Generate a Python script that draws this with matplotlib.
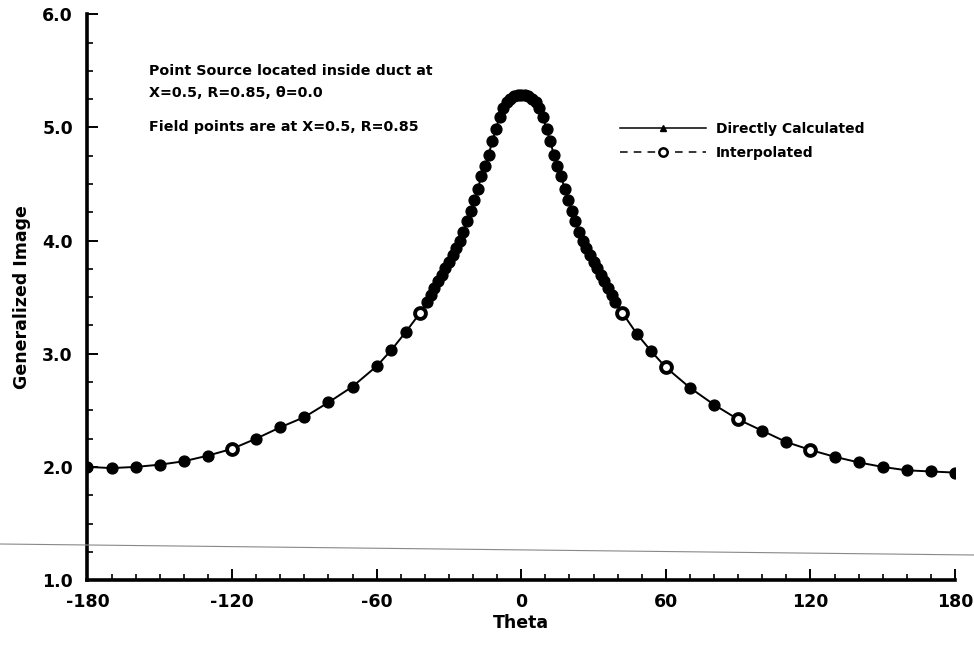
import matplotlib
matplotlib.use("Agg")
import matplotlib.pyplot as plt
from matplotlib.lines import Line2D
from matplotlib.ticker import MultipleLocator

plt.rcParams['font.family'] = ['DejaVu Sans']
plt.rcParams['font.weight'] = 'bold'

# ---- data ----
theta = [-180, -170, -160, -150, -140, -130, -120, -110, -100, -90, -80, -70, -60,
         -54, -48, -42,
         -39, -37.5, -36, -34.5, -33, -31.5, -30, -28.5, -27, -25.5, -24, -22.5,
         -21, -19.5, -18, -16.5, -15, -13.5, -12, -10.5, -9, -7.5, -6, -4.5,
         -3, -1.5, 0, 1.5, 3, 4.5, 6, 7.5, 9, 10.5, 12, 13.5, 15, 16.5, 18,
         19.5, 21, 22.5, 24, 25.5, 27, 28.5, 30, 31.5, 33, 34.5, 36, 37.5, 39,
         42, 48, 54, 60, 70, 80, 90, 100, 110, 120, 130, 140, 150, 160, 170, 180]
image = [2.00, 1.99, 2.00, 2.02, 2.05, 2.10, 2.16, 2.25, 2.35, 2.44, 2.57, 2.71, 2.89,
         3.03, 3.19, 3.36,
         3.46, 3.52, 3.58, 3.64, 3.70, 3.76, 3.81, 3.87, 3.93, 4.00, 4.08, 4.17,
         4.26, 4.36, 4.46, 4.57, 4.66, 4.76, 4.88, 4.99, 5.09, 5.17, 5.22, 5.255,
         5.275, 5.285, 5.29, 5.285, 5.275, 5.255, 5.22, 5.17, 5.09, 4.99, 4.88, 4.76, 4.66, 4.57, 4.46,
         4.36, 4.26, 4.17, 4.08, 4.00, 3.93, 3.87, 3.81, 3.76, 3.70, 3.64, 3.58, 3.52, 3.46,
         3.36, 3.175, 3.02, 2.88, 2.70, 2.55, 2.42, 2.32, 2.22, 2.15, 2.09, 2.04, 2.00, 1.97, 1.96, 1.95]

interp_theta = [-120, -42, 42, 60, 90, 120]
interp_image = [2.16, 3.36, 3.36, 2.88, 2.42, 2.15]

xticks = [-180, -120, -60, 0, 60, 120, 180]
xticklabels = ['-180', '-120', '-60', '0', '60', '120', '180']
yticks = [1.0, 2.0, 3.0, 4.0, 5.0, 6.0]
yticklabels = ['1.0', '2.0', '3.0', '4.0', '5.0', '6.0']

legend_labels = ['Directly Calculated', 'Interpolated']
note_lines = ['Point Source located inside duct at',
              'X=0.5, R=0.85, \u03b8=0.0',
              'Field points are at X=0.5, R=0.85']
note_y = [5.50, 5.30, 5.00]

# ---- figure ----
fig = plt.figure(figsize=(9.74, 6.46), dpi=100)
ax = fig.add_axes([0.0898, 0.102, 0.8907, 0.876])

ax.plot(theta, image, '-', color='black', lw=1.4, marker='o', ms=7.8,
        mfc='black', mec='black', zorder=3)
ax.plot(interp_theta, interp_image, 'o', ms=7.8, mfc='white', mec='black',
        mew=2.8, zorder=4)

ax.set_xlim(-180, 180)
ax.set_ylim(1.0, 6.0)
ax.set_xticks(xticks)
ax.set_xticklabels(xticklabels)
ax.set_yticks(yticks)
ax.set_yticklabels(yticklabels)
ax.xaxis.set_minor_locator(MultipleLocator(10))
ax.yaxis.set_minor_locator(MultipleLocator(0.25))

for s in ['top', 'right']:
    ax.spines[s].set_visible(False)
for s in ['left', 'bottom']:
    ax.spines[s].set_linewidth(2.6)

ax.tick_params(which='major', direction='in', length=8, width=1.4,
               labelsize=12.5)
ax.tick_params(which='minor', direction='in', length=4, width=1.2)
ax.tick_params(axis='x', which='major', pad=9.5)
ax.tick_params(axis='y', which='major', pad=10.5)
for lab in ax.get_xticklabels() + ax.get_yticklabels():
    lab.set_fontweight('bold')

ax.set_xlabel('Theta', fontsize=12.5, fontweight='bold', labelpad=2)
ax.set_ylabel('Generalized Image', fontsize=12.5, fontweight='bold', labelpad=8)

for txt, yv in zip(note_lines, note_y):
    ax.text(-154.5, yv, txt, fontsize=10.3, fontweight='bold', va='center')

handles = [Line2D([], [], color='black', lw=1.1, marker='^', ms=4),
           Line2D([], [], color='black', lw=1.1, ls=(0, (5, 4)), marker='o', ms=6,
                  mfc='white', mec='black', mew=1.8)]
ax.legend(handles, legend_labels, loc='upper left', bbox_to_anchor=(0.614, 0.81),
          frameon=False, handlelength=6.2, handletextpad=0.7,
          labelspacing=0.75, borderpad=0, borderaxespad=0,
          prop={'weight': 'bold', 'size': 10})

# faint scan line crossing the sheet
fig.add_artist(Line2D([0, 1], [1 - 544 / 646, 1 - 555 / 646],
                      transform=fig.transFigure, color='#888888', lw=0.8))

fig.savefig('out.png', dpi=100)
